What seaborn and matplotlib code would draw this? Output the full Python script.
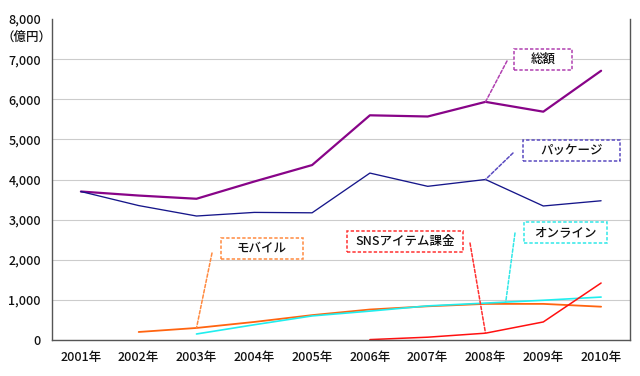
import numpy as np
import pandas as pd
import matplotlib
matplotlib.use("Agg")
import matplotlib.pyplot as plt
from matplotlib.patches import Rectangle
import seaborn as sns

years = ["2001年", "2002年", "2003年", "2004年", "2005年",
         "2006年", "2007年", "2008年", "2009年", "2010年"]
total = [3700, 3600, 3520, 3950, 4360, 5600, 5570, 5935, 5690, 6710]
package = [3700, 3350, 3090, 3180, 3170, 4160, 3830, 4000, 3340, 3470]
mobile = [np.nan, 200, 300, 450, 620, 760, 840, 900, 900, 830]
online = [np.nan, np.nan, 150, 380, 600, 720, 850, 920, 990, 1070]
sns_item = [np.nan, np.nan, np.nan, np.nan, np.nan, 10, 70, 170, 450, 1420]
yticks = [0, 1000, 2000, 3000, 4000, 5000, 6000, 7000, 8000]

sns.set_theme(style="white")
plt.rcParams['font.family'] = ['Noto Sans CJK JP', 'DejaVu Sans']
plt.rcParams['font.weight'] = 'medium'

W, H = 640, 376
AX_L, AX_R, AX_B, AX_T = 52, 630, 340, 19
fig = plt.figure(figsize=(6.4, 3.76), dpi=100)
ax = fig.add_axes([AX_L / W, (H - AX_B) / H, (AX_R - AX_L) / W, (AX_B - AX_T) / H])

x = np.arange(len(years))
series = [
    ("総額", total, "#880488", 1.6),
    ("パッケージ", package, "#16168A", 0.95),
    ("モバイル", mobile, "#FF6410", 1.3),
    ("オンライン", online, "#20EEEE", 1.2),
    ("SNSアイテム課金", sns_item, "#FF1010", 1.1),
]
for name, vals, col, lw in series:
    df = pd.DataFrame({"x": x, "y": vals}).dropna()
    sns.lineplot(data=df, x="x", y="y", color=col, linewidth=lw, ax=ax)

ax.set_xlim(-0.5, 9.5)
ax.set_ylim(0, 8000)
ax.set_yticks(yticks)
ax.set_yticklabels([f"{v:,}" for v in yticks], fontsize=9, color="#111111")
ax.set_xticks(x)
ax.set_xticklabels(years, fontsize=9, color="#111111")
ax.tick_params(axis="both", length=0, pad=8)
ax.set_xticks(np.arange(0.5, 9.5, 1.0), minor=True)
ax.tick_params(axis="x", which="minor", direction="in", length=4, color="#777777", width=0.8)
ax.set_xlabel("")
ax.set_ylabel("")
ax.grid(axis="y", color="#CCCCCC", linewidth=0.8)
ax.get_ygridlines()[-1].set_visible(False)
for s in ["left", "bottom", "right"]:
    ax.spines[s].set_visible(True)
    ax.spines[s].set_color("#555555")
    ax.spines[s].set_linewidth(1.0)
ax.spines["top"].set_visible(False)

fig.text(1 / W, 1 - 37.5 / H, "（億円）", ha="left", va="center", fontsize=9, color="#111111")

# pixel -> data helpers (layout only)
def px2x(px):
    return -0.5 + (px - AX_L) * 10.0 / (AX_R - AX_L)

def px2y(py):
    return (AX_B - py) * 8000.0 / (AX_B - AX_T)

DASH = (0, (2.2, 1.3))

def label(text, target, start_px, box_px, col):
    cx, cy, w, h = box_px
    x0, y0 = px2x(cx - w / 2), px2y(cy + h / 2)
    ax.add_patch(Rectangle((x0, y0), w * 10.0 / (AX_R - AX_L), h * 8000.0 / (AX_B - AX_T),
                           fc="white", ec=col, ls=DASH, lw=1.1, zorder=5, clip_on=False))
    ax.text(px2x(cx), px2y(cy), text, ha="center", va="center", fontsize=9,
            color="#111111", zorder=6)
    ax.annotate("", xy=target, xytext=(px2x(start_px[0]), px2y(start_px[1])),
                arrowprops=dict(arrowstyle="-", color=col, ls=DASH, lw=1.1,
                                shrinkA=0, shrinkB=0), zorder=4)

label("総額", (7, total[7]), (507, 61), (543, 59.5, 58, 21), "#B040B0")
label("パッケージ", (7, package[7]), (513, 153), (571.5, 150.5, 97, 21), "#5A4AC0")
label("モバイル", (2, mobile[2]), (212, 253), (262, 248.5, 82, 21), "#FF8A40")
label("SNSアイテム課金", (7, sns_item[7]), (470, 243), (405, 241.5, 116, 21), "#FF3030")
xo = 7.35
label("オンライン", (xo, online[7] + (xo - 7) * (online[8] - online[7])), (515, 233),
      (565.5, 232.5, 83, 21), "#30E8E8")

fig.savefig("out.png", dpi=100)
